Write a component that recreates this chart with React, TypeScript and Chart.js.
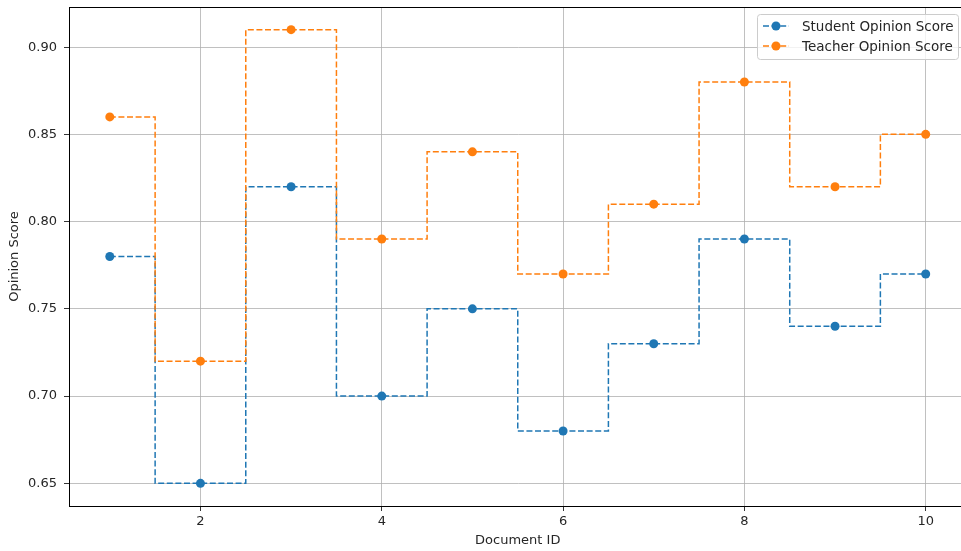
import React, { useEffect, useRef } from "react";
import { Chart, registerables } from "chart.js";

Chart.register(...registerables);

const documentIds = [1, 2, 3, 4, 5, 6, 7, 8, 9, 10];
const studentScores = [0.78, 0.65, 0.82, 0.70, 0.75, 0.68, 0.73, 0.79, 0.74, 0.77];
const teacherScores = [0.86, 0.72, 0.91, 0.79, 0.84, 0.77, 0.81, 0.88, 0.82, 0.85];
const xTicks = [2, 4, 6, 8, 10];
const yTicks = [0.65, 0.70, 0.75, 0.80, 0.85, 0.90];
const seriesNames = ["Student Opinion Score", "Teacher Opinion Score"];
const seriesColors = ["#1f77b4", "#ff7f0e"];

const FONT = "'DejaVu Sans', sans-serif";
const TEXT = "#262626";

const framePlugin = {
  id: "frame",
  afterDraw(chart: any) {
    const { ctx, chartArea } = chart;
    ctx.save();
    ctx.strokeStyle = "#000";
    ctx.lineWidth = 1;
    ctx.strokeRect(
      Math.round(chartArea.left) + 0.5,
      Math.round(chartArea.top) + 0.5,
      Math.round(chartArea.right - chartArea.left),
      Math.round(chartArea.bottom - chartArea.top)
    );
    // legend
    const bx = 757, by = 14, bw = 201, bh = 45;
    ctx.fillStyle = "rgba(255,255,255,0.8)";
    ctx.strokeStyle = "#cccccc";
    ctx.lineWidth = 1;
    ctx.beginPath();
    (ctx as any).roundRect(bx + 0.5, by + 0.5, bw, bh, 3);
    ctx.fill();
    ctx.stroke();
    seriesNames.forEach((name, i) => {
      const y = by + 12 + i * 20;
      ctx.strokeStyle = seriesColors[i];
      ctx.lineWidth = 1.5;
      ctx.setLineDash([6, 2.6]);
      ctx.beginPath();
      ctx.moveTo(763, y);
      ctx.lineTo(789, y);
      ctx.stroke();
      ctx.setLineDash([]);
      ctx.fillStyle = seriesColors[i];
      ctx.beginPath();
      ctx.arc(776, y, 4.5, 0, Math.PI * 2);
      ctx.fill();
      ctx.fillStyle = TEXT;
      ctx.font = `13.5px ${FONT}`;
      ctx.textBaseline = "middle";
      ctx.textAlign = "left";
      ctx.fillText(name, 802, y + 1);
    });
    ctx.restore();
  },
};

export default function App() {
  const ref = useRef<HTMLCanvasElement | null>(null);

  useEffect(() => {
    if (!ref.current) return;
    const makeData = (vals: number[]) => documentIds.map((x, i) => ({ x, y: vals[i] }));
    const ds = (i: number, vals: number[], order: number) => ({
      label: seriesNames[i],
      data: makeData(vals),
      borderColor: seriesColors[i],
      backgroundColor: seriesColors[i],
      pointBackgroundColor: seriesColors[i],
      pointBorderColor: seriesColors[i],
      borderWidth: 1.5,
      borderDash: [6, 2.6],
      pointRadius: 4.5,
      pointHoverRadius: 4.5,
      pointBorderWidth: 0,
      stepped: "middle",
      fill: false,
      order,
    });
    const chart = new Chart(ref.current, {
      type: "line",
      data: {
        datasets: [ds(0, studentScores, 1), ds(1, teacherScores, 0)] as any,
      },
      options: {
        animation: false,
        responsive: false,
        maintainAspectRatio: false,
        layout: { padding: { top: 7, right: 0, left: 0, bottom: 0 } },
        plugins: {
          legend: { display: false },
          tooltip: { enabled: false },
        },
        scales: {
          x: {
            type: "linear",
            min: 0.55,
            max: 10.45,
            afterFit: (s: any) => {
              s.height = 45;
              s.paddingLeft = 0;
              s.paddingRight = 0;
            },
            afterBuildTicks: (s: any) => {
              s.ticks = xTicks.map((v) => ({ value: v }));
            },
            grid: {
              color: "#b0b0b0",
              lineWidth: 0.8,
              tickColor: "#000",
              tickLength: 5,
            },
            border: { color: "#000", width: 1 },
            ticks: {
              color: TEXT,
              font: { family: FONT, size: 13 },
              padding: 3,
              maxRotation: 0,
              callback: (v: any) => String(v),
            },
            title: {
              display: true,
              text: "Document ID",
              color: TEXT,
              font: { family: FONT, size: 13 },
              padding: { top: 0, bottom: 3 },
            },
          },
          y: {
            type: "linear",
            min: 0.637,
            max: 0.923,
            afterFit: (s: any) => {
              s.width = 69;
              s.paddingTop = 0;
              s.paddingBottom = 0;
            },
            afterBuildTicks: (s: any) => {
              s.ticks = yTicks.map((v) => ({ value: v }));
            },
            grid: {
              color: "#b0b0b0",
              lineWidth: 0.8,
              tickColor: "#000",
              tickLength: 5,
            },
            border: { color: "#000", width: 1 },
            ticks: {
              color: TEXT,
              font: { family: FONT, size: 13 },
              padding: 7,
              callback: (v: any) => Number(v).toFixed(2),
            },
            title: {
              display: true,
              text: "Opinion Score",
              color: TEXT,
              font: { family: FONT, size: 13 },
              padding: { top: 7, bottom: 0 },
            },
          },
        },
      },
      plugins: [framePlugin],
    });
    return () => chart.destroy();
  }, []);

  return (
    <div
      style={{
        position: "fixed",
        left: 0,
        top: 0,
        width: 961,
        height: 551,
        overflow: "hidden",
        background: "#fff",
      }}
    >
      <canvas ref={ref} width={971} height={551} style={{ width: 971, height: 551, display: "block" }} />
    </div>
  );
}
